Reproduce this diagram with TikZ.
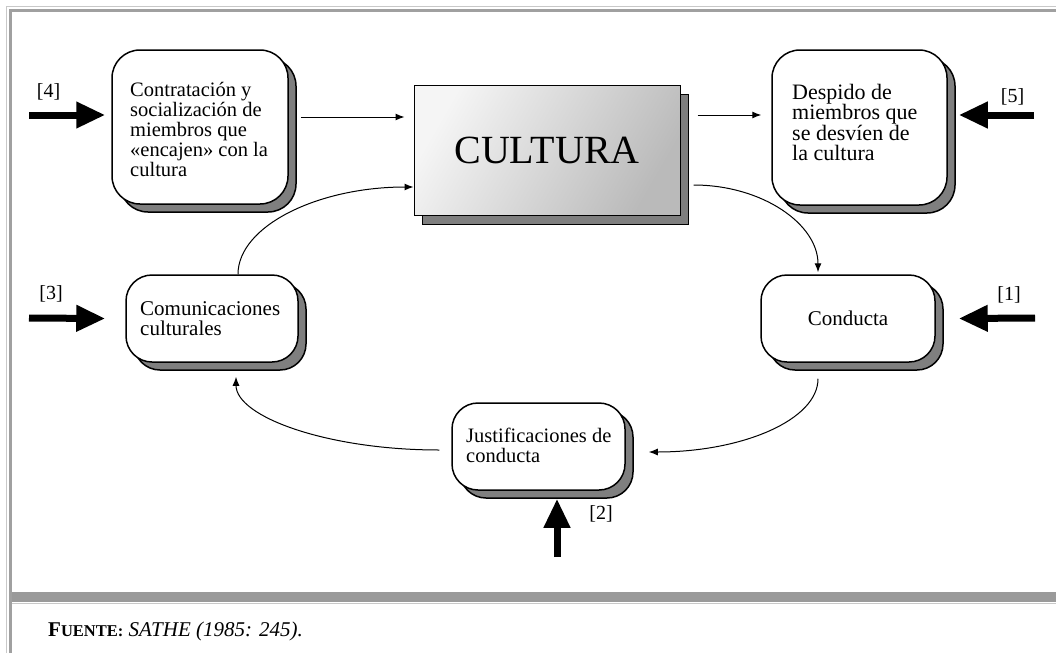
\documentclass[tikz,border=0pt]{standalone}
\usepackage{fontspec}
\setmainfont{Liberation Serif}
\usetikzlibrary{arrows.meta,shadows,calc}
\definecolor{shgray}{HTML}{7F7F7F}
\definecolor{framelight}{HTML}{C8C8C8}
\definecolor{framedark}{HTML}{A0A0A0}
\definecolor{banddark}{HTML}{9A9A9A}
\newcommand{\hs}{\rule{0pt}{16pt}}
\begin{document}
\begin{tikzpicture}[x=1pt,y=-1pt,
  box/.style={draw=black, line width=1.5pt, fill=white, rounded corners=26pt, inner sep=0pt,
    general shadow={fill=shgray, draw=black, line width=1.5pt, shadow xshift=8pt, shadow yshift=-8pt}},
  cultbox/.style={draw=black, line width=1pt, inner sep=0pt,
    top color=black!4, bottom color=black!27, shading angle=60,
    general shadow={fill=shgray, draw=black, line width=1pt, shadow xshift=8pt, shadow yshift=-9pt}},
  txt/.style={inner sep=0pt, align=left, anchor=north west},
  lbl/.style={inner sep=0pt, font=\fontsize{20}{20}\selectfont},
  thinarrow/.style={line width=1pt, -{Latex[length=9pt,width=7pt]}},
  bigarrow/.style={line width=7pt, -{Triangle[length=29pt,width=25pt]}}
]
\useasboundingbox (0,0) rectangle (1056,653);

% frame
\draw[framelight, line width=1.2pt] (6.5,653) -- (6.5,6.5) -- (1056,6.5);
\draw[framedark, line width=2.6pt] (10.2,653) -- (10.2,10.5) -- (1056,10.5);
\fill[banddark] (11.5,592) rectangle (1056,602);
\draw[framelight, line width=1pt] (11.5,603) -- (1056,603);

% boxes
\node[box, rounded corners=28pt, minimum width=176pt, minimum height=154pt] (b4) at (200,127) {};
\node[box, rounded corners=28pt, minimum width=175pt, minimum height=155pt] (b5) at (859.5,127.5) {};
\node[box, minimum width=172pt, minimum height=87pt] (b3) at (212,318.5) {};
\node[box, minimum width=174pt, minimum height=87pt] (b1) at (848,318.5) {};
\node[box, minimum width=173pt, minimum height=87pt] (b2) at (538.5,446.5) {};
\node[cultbox, minimum width=266pt, minimum height=130pt] (cult) at (547,150)
  {\fontsize{40}{40}\selectfont CULTURA};

% box texts
\node[txt, font=\fontsize{20.5}{20}\selectfont] (t4) at (130,80)
  {\hs Contratación y\\socialización de\\miembros que\\«encajen» con la\\cultura};
\node[txt, font=\fontsize{22}{20.5}\selectfont] (t5) at (792,83)
  {\hs Despido de\\miembros que\\se desvíen de\\la cultura};
\node[txt, font=\fontsize{21}{20}\selectfont] (t3) at (140,299)
  {\hs Comunicaciones\\culturales};
\node[txt, font=\fontsize{20.5}{20}\selectfont] (t2) at (466,426)
  {\hs Justificaciones de\\conducta};
\node[inner sep=0pt, anchor=base, font=\fontsize{21}{20}\selectfont] (t1) at (848,325) {Conducta};

% labels
\node[lbl] (l4) at (48.5,92) {[4]};
\node[lbl] (l5) at (1012.5,97) {[5]};
\node[lbl] (l3) at (51,294) {[3]};
\node[lbl] (l1) at (1009,295) {[1]};
\node[lbl] (l2) at (601,514) {[2]};

% thick input arrows
\coordinate (s4) at (29,115);
\coordinate (s5) at (1034,115);
\coordinate (s3) at (29,318);
\coordinate (s1) at (1035,318);
\coordinate (s2) at (557,557);
\draw[bigarrow] (s4) -- ([xshift=-6pt,yshift=12pt]b4.west);
\draw[bigarrow] (s5) -- ([xshift=11pt,yshift=12.5pt]b5.east);
\draw[bigarrow] (s3) -- ([xshift=-20pt]b3.west);
\draw[bigarrow] (s1) -- ([xshift=23pt]b1.east);
\draw[bigarrow] (s2) -- ([xshift=18.5pt,yshift=-8pt]b2.south);

% thin connectors
\draw[thinarrow] ([xshift=12pt,yshift=10pt]b4.east) -- ([xshift=-9pt,yshift=33pt]cult.west);
\draw[thinarrow] ([xshift=17pt,yshift=35pt]cult.east) -- ([xshift=-10pt,yshift=12.5pt]b5.west);
\draw[thinarrow] ([xshift=13pt,yshift=-35pt]cult.east) .. controls +(69,0) and +(0,-48) .. ([xshift=-30pt,yshift=2pt]b1.north);
\draw[thinarrow] ([xshift=-30pt,yshift=-16pt]b1.south) .. controls +(0,41) and +(94,0) .. ([xshift=23pt,yshift=-5.5pt]b2.east);
\draw[thinarrow] ([xshift=-12pt,yshift=-3.5pt]b2.west) .. controls +(-112,0) and +(0,40) .. ([xshift=24pt,yshift=-14pt]b3.south);
\draw[thinarrow] ([xshift=26pt]b3.north) .. controls +(0,-48) and +(-96,0) .. ([yshift=-37pt]cult.west);

% source
\node[inner sep=0pt, anchor=base west, font=\fontsize{21}{21}\selectfont] (src) at (48,636)
  {{\bfseries F{\fontsize{16.5}{16.5}\selectfont UENTE:}} \textit{SATHE (1985: 245).}};
\end{tikzpicture}
\end{document}
